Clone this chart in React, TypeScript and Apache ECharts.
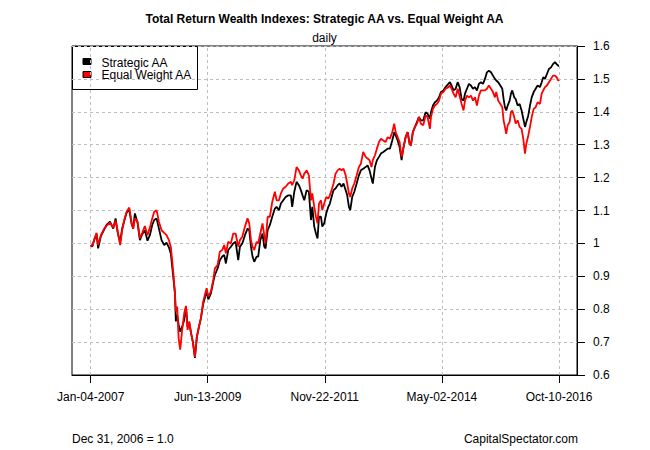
import React, { useEffect, useRef } from "react";
import * as echarts from "echarts";

const dates: string[] = [
  "2007-01-04","2007-01-16","2007-01-31","2007-02-18","2007-03-02","2007-03-23","2007-04-17","2007-05-05","2007-05-31","2007-06-25",
  "2007-07-13","2007-07-28","2007-08-07","2007-08-17","2007-09-01","2007-09-17","2007-10-05","2007-10-25","2007-11-12","2007-11-24",
  "2007-12-07","2007-12-27","2008-01-14","2008-02-01","2008-02-21","2008-03-12","2008-03-30","2008-04-17","2008-05-02","2008-05-20",
  "2008-06-07","2008-06-27","2008-07-17","2008-08-04","2008-08-22","2008-09-06","2008-09-16","2008-09-27","2008-10-07","2008-10-14",
  "2008-10-24","2008-11-04","2008-11-16","2008-12-01","2008-12-17","2008-12-30","2009-01-11","2009-01-24","2009-02-06","2009-02-21",
  "2009-03-08","2009-03-23","2009-04-07","2009-04-23","2009-05-10","2009-06-05","2009-06-18","2009-07-08","2009-07-26","2009-08-07",
  "2009-08-28","2009-09-14","2009-10-02","2009-10-17","2009-10-30","2009-11-17","2009-12-07","2009-12-25","2010-01-12","2010-02-01",
  "2010-02-14","2010-03-04","2010-03-24","2010-04-13","2010-04-26","2010-05-09","2010-05-21","2010-06-03","2010-06-21","2010-07-03",
  "2010-07-19","2010-08-05","2010-08-18","2010-08-28","2010-09-13","2010-09-30","2010-10-18","2010-11-07","2010-11-20","2010-12-08",
  "2010-12-23","2011-01-10","2011-01-28","2011-02-17","2011-03-09","2011-03-19","2011-04-04","2011-04-21","2011-05-09","2011-05-24",
  "2011-06-06","2011-06-19","2011-07-07","2011-07-24","2011-08-09","2011-08-19","2011-09-03","2011-09-16","2011-09-28","2011-10-09",
  "2011-10-24","2011-11-03","2011-11-18","2011-12-03","2011-12-19","2011-12-31","2012-01-13","2012-01-28","2012-02-12","2012-02-28",
  "2012-03-14","2012-03-29","2012-04-13","2012-04-29","2012-05-11","2012-05-24","2012-06-03","2012-06-18","2012-07-04","2012-07-22",
  "2012-08-08","2012-08-23","2012-09-10","2012-09-28","2012-10-13","2012-10-28","2012-11-12","2012-11-22","2012-12-08","2012-12-23",
  "2013-01-08","2013-01-23","2013-02-10","2013-02-27","2013-03-15","2013-04-01","2013-04-19","2013-05-04","2013-05-15","2013-05-30",
  "2013-06-14","2013-06-29","2013-07-12","2013-07-30","2013-08-14","2013-08-29","2013-09-08","2013-09-23","2013-10-09","2013-10-24",
  "2013-11-08","2013-11-23","2013-12-11","2013-12-29","2014-01-13","2014-01-31","2014-02-08","2014-02-23","2014-03-10","2014-03-25",
  "2014-04-10","2014-04-25","2014-05-13","2014-05-30","2014-06-20","2014-07-02","2014-07-15","2014-07-30","2014-08-15","2014-08-30",
  "2014-09-14","2014-09-29","2014-10-14","2014-10-25","2014-11-09","2014-11-24","2014-12-09","2014-12-25","2015-01-09","2015-01-24",
  "2015-02-08","2015-02-23","2015-03-11","2015-03-26","2015-04-10","2015-04-25","2015-05-11","2015-05-26","2015-06-10","2015-06-20",
  "2015-07-05","2015-07-21","2015-08-05","2015-08-15","2015-08-25","2015-09-04","2015-09-15","2015-09-30","2015-10-10","2015-10-20",
  "2015-11-04","2015-11-15","2015-11-30","2015-12-15","2015-12-30","2016-01-12","2016-01-25","2016-02-04","2016-02-19","2016-03-03",
  "2016-03-16","2016-03-31","2016-04-15","2016-04-30","2016-05-18","2016-05-31","2016-06-12","2016-06-25","2016-07-10","2016-07-25",
  "2016-08-10","2016-08-25","2016-09-09","2016-09-22","2016-10-04","2016-10-10"
];

const strategicAA: number[] = [
  0.995,0.990,1.010,1.028,0.985,1.022,1.042,1.056,1.066,1.045,
  1.076,1.035,1.018,1.005,1.045,1.069,1.093,1.103,1.059,1.045,
  1.091,1.063,1.010,1.028,1.040,1.008,1.025,1.056,1.071,1.076,
  1.045,1.010,0.995,1.002,0.988,0.968,0.929,0.887,0.848,0.763,
  0.783,0.753,0.732,0.747,0.768,0.808,0.747,0.758,0.729,0.699,
  0.652,0.715,0.745,0.773,0.816,0.854,0.830,0.848,0.884,0.904,
  0.924,0.949,0.960,0.965,0.939,0.980,0.990,1.000,1.005,0.949,
  0.990,1.000,1.025,1.045,1.040,0.990,0.960,0.944,0.960,0.960,
  1.010,1.030,0.990,0.985,1.040,1.056,1.081,1.106,1.111,1.101,
  1.121,1.131,1.141,1.146,1.146,1.111,1.157,1.187,1.177,1.162,
  1.146,1.131,1.162,1.157,1.071,1.111,1.051,1.030,1.015,1.081,
  1.081,1.051,1.061,1.091,1.111,1.121,1.141,1.162,1.167,1.177,
  1.182,1.172,1.182,1.162,1.146,1.111,1.101,1.141,1.157,1.182,
  1.207,1.222,1.227,1.232,1.237,1.222,1.197,1.182,1.232,1.253,
  1.263,1.273,1.278,1.283,1.288,1.288,1.313,1.338,1.328,1.313,
  1.293,1.253,1.288,1.323,1.338,1.303,1.298,1.338,1.354,1.369,
  1.384,1.374,1.374,1.399,1.394,1.379,1.399,1.419,1.429,1.434,
  1.444,1.460,1.465,1.475,1.485,1.490,1.480,1.465,1.470,1.490,
  1.475,1.439,1.434,1.455,1.470,1.485,1.480,1.470,1.475,1.465,
  1.485,1.490,1.485,1.500,1.520,1.525,1.520,1.510,1.500,1.495,
  1.490,1.480,1.470,1.439,1.414,1.404,1.419,1.434,1.455,1.465,
  1.444,1.439,1.419,1.424,1.404,1.379,1.354,1.369,1.389,1.419,
  1.444,1.460,1.470,1.480,1.475,1.490,1.505,1.500,1.515,1.530,
  1.535,1.545,1.551,1.545,1.540,1.540
];

const equalWeightAA: number[] = [
  0.995,0.992,1.012,1.032,0.995,1.025,1.045,1.053,1.063,1.048,
  1.069,1.040,1.015,0.995,1.040,1.071,1.096,1.109,1.063,1.045,
  1.076,1.066,1.015,1.032,1.053,1.025,1.048,1.076,1.096,1.101,
  1.066,1.040,1.032,1.025,1.010,0.988,0.949,0.899,0.848,0.793,
  0.808,0.712,0.677,0.737,0.788,0.810,0.737,0.763,0.729,0.699,
  0.655,0.717,0.745,0.773,0.823,0.864,0.838,0.854,0.889,0.924,
  0.934,0.975,0.980,0.995,0.970,1.005,1.000,1.030,1.030,0.990,
  1.010,1.020,1.051,1.076,1.061,1.010,0.990,0.980,1.005,1.000,
  1.030,1.061,1.025,1.000,1.081,1.081,1.126,1.157,1.131,1.131,
  1.152,1.167,1.172,1.182,1.187,1.177,1.192,1.232,1.222,1.207,
  1.197,1.212,1.222,1.207,1.131,1.152,1.111,1.081,1.061,1.121,
  1.131,1.101,1.121,1.141,1.136,1.146,1.162,1.182,1.212,1.222,
  1.227,1.222,1.227,1.207,1.182,1.152,1.141,1.167,1.182,1.207,
  1.232,1.242,1.278,1.263,1.258,1.253,1.232,1.253,1.268,1.288,
  1.308,1.318,1.313,1.308,1.323,1.318,1.338,1.364,1.338,1.323,
  1.308,1.263,1.288,1.323,1.338,1.303,1.298,1.338,1.354,1.364,
  1.384,1.364,1.359,1.389,1.384,1.348,1.384,1.409,1.419,1.424,
  1.434,1.455,1.460,1.470,1.475,1.480,1.470,1.455,1.444,1.470,
  1.449,1.424,1.404,1.434,1.449,1.444,1.449,1.434,1.444,1.419,
  1.449,1.465,1.465,1.465,1.470,1.480,1.470,1.460,1.444,1.460,
  1.434,1.424,1.414,1.374,1.354,1.333,1.359,1.369,1.399,1.404,
  1.384,1.364,1.374,1.354,1.348,1.318,1.273,1.303,1.328,1.354,
  1.384,1.409,1.414,1.429,1.424,1.455,1.465,1.475,1.480,1.490,
  1.500,1.510,1.510,1.505,1.495,1.497
];

const xTickDates: string[] = ["2007-01-04", "2009-06-13", "2011-11-22", "2014-05-02", "2016-10-10"];
const xAxisMinDate = "2006-08-15";
const xAxisMaxDate = "2017-02-24";
const yMin = 0.6;
const yMax = 1.6;
const yStep = 0.1;

const seriesNames = ["Strategic AA", "Equal Weight AA"];
const seriesColors = ["#000000", "#FF0000"];
const titleText = "Total Return Wealth Indexes: Strategic AA vs. Equal Weight AA";
const subtitleText = "daily";
const footLeft = "Dec 31, 2006 = 1.0";
const footRight = "CapitalSpectator.com";

const MONTHS = ["Jan","Feb","Mar","Apr","May","Jun","Jul","Aug","Sep","Oct","Nov","Dec"];
const FONT = "'Liberation Sans', Arial, Helvetica, sans-serif";
const GRID_COLOR = "#BEBEBE";

function ts(s: string): number {
  const [y, m, d] = s.split("-").map(Number);
  return Date.UTC(y, m - 1, d);
}
function fmtDate(v: number): string {
  const d = new Date(v);
  const dd = String(d.getUTCDate()).padStart(2, "0");
  return `${MONTHS[d.getUTCMonth()]}-${dd}-${d.getUTCFullYear()}`;
}

export default function App() {
  const ref = useRef<HTMLDivElement>(null);
  useEffect(() => {
    if (!ref.current) return;
    const chart = echarts.init(ref.current, null, { renderer: "svg" });
    const tickVals = xTickDates.map(ts);
    const s1 = dates.map((d, i) => [ts(d), strategicAA[i]]);
    const s2 = dates.map((d, i) => [ts(d), equalWeightAA[i]]);
    const dashed = { color: GRID_COLOR, type: [3, 3] as any, width: 1 };

    chart.setOption({
      animation: false,
      backgroundColor: "#ffffff",
      textStyle: { fontFamily: FONT },
      grid: {
        left: 72, right: 73, top: 46, bottom: 75,
        show: true, borderColor: "#000000", borderWidth: 1, backgroundColor: "transparent",
        containLabel: false,
      },
      xAxis: {
        type: "value",
        min: ts(xAxisMinDate),
        max: ts(xAxisMaxDate),
        axisLine: { show: true, onZero: false, lineStyle: { color: "#000", width: 1 } },
        axisTick: { show: true, length: 8, lineStyle: { color: "#000" }, customValues: tickVals },
        axisLabel: {
          show: true, customValues: tickVals, formatter: (v: number) => fmtDate(v),
          color: "#000", fontSize: 12, fontFamily: FONT, margin: 16, lineHeight: 12,
        },
        splitLine: { show: false },
      },
      yAxis: {
        type: "value",
        position: "right",
        min: yMin, max: yMax, interval: yStep,
        axisLine: { show: true, lineStyle: { color: "#000", width: 1 } },
        axisTick: { show: true, length: 8, lineStyle: { color: "#000" } },
        axisLabel: { color: "#000", fontSize: 12, fontFamily: FONT, margin: 16,
          formatter: (v: number) => String(parseFloat(v.toFixed(2))) },
        splitLine: { show: true, lineStyle: dashed },
      },
      series: [
        { name: seriesNames[0], type: "line", data: s1, showSymbol: false, symbol: "none",
          lineStyle: { color: seriesColors[0], width: 1.8 }, itemStyle: { color: seriesColors[0] }, z: 2,
          markLine: {
            silent: true, symbol: "none", animation: false, z: 1,
            label: { show: false },
            lineStyle: dashed,
            data: tickVals.map((v) => ({ xAxis: v })),
          } },
        { name: seriesNames[1], type: "line", data: s2, showSymbol: false, symbol: "none",
          lineStyle: { color: seriesColors[1], width: 1.8 }, itemStyle: { color: seriesColors[1] }, z: 3 },
      ],
      graphic: [
        { type: "text", x: 324.5, y: 18.5, z: 10,
          style: { text: titleText, font: `bold 12px ${FONT}`, fill: "#000", textAlign: "center", textVerticalAlign: "middle" } },
        { type: "text", x: 324.5, y: 37.5, z: 10,
          style: { text: subtitleText, font: `12px ${FONT}`, fill: "#000", textAlign: "center", textVerticalAlign: "middle" } },
        { type: "text", x: 72, y: 439, z: 10,
          style: { text: footLeft, font: `12px ${FONT}`, fill: "#000", textAlign: "left", textVerticalAlign: "middle" } },
        { type: "text", x: 578, y: 439, z: 10,
          style: { text: footRight, font: `12px ${FONT}`, fill: "#000", textAlign: "right", textVerticalAlign: "middle" } },
        { type: "group", z: 20, children: [
          { type: "rect", shape: { x: 72.5, y: 46.5, width: 125, height: 43 },
            style: { fill: "#fff", stroke: "#000", lineWidth: 1 } },
          { type: "rect", shape: { x: 83, y: 58.5, width: 8, height: 6 },
            style: { fill: seriesColors[0], stroke: "#000", lineWidth: 1 } },
          { type: "rect", shape: { x: 83, y: 71.5, width: 8, height: 6 },
            style: { fill: seriesColors[1], stroke: "#000", lineWidth: 1 } },
          { type: "text", x: 101.5, y: 62.5,
            style: { text: seriesNames[0], font: `12px ${FONT}`, fill: "#000", textAlign: "left", textVerticalAlign: "middle" } },
          { type: "text", x: 101.5, y: 75,
            style: { text: seriesNames[1], font: `12px ${FONT}`, fill: "#000", textAlign: "left", textVerticalAlign: "middle" } },
        ] },
      ],
    });
    return () => chart.dispose();
  }, []);
  return <div ref={ref} style={{ position: "fixed", left: 0, top: 0, width: 650, height: 450, background: "#fff" }} />;
}
